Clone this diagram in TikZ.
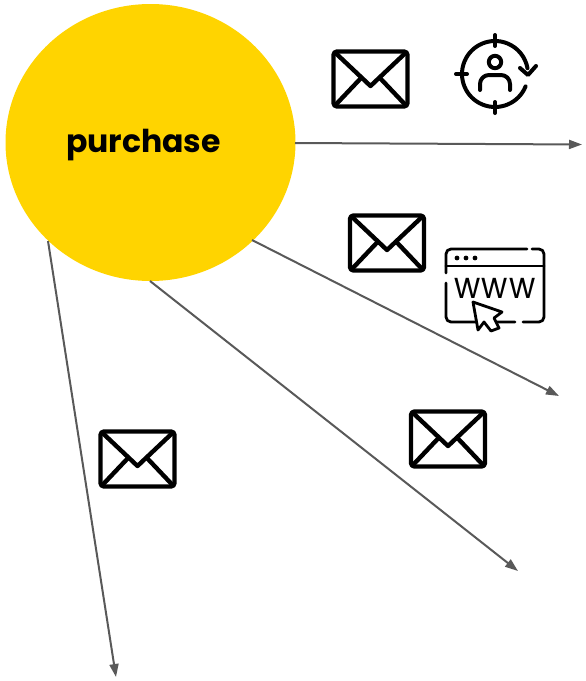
\documentclass[tikz,border=0pt]{standalone}
\usepackage{fontspec}
\setmainfont{Poppins}[BoldFont=Poppins Bold]
\usetikzlibrary{shapes.geometric,arrows.meta}
\definecolor{gold}{HTML}{FFD400}
\definecolor{conn}{HTML}{595959}
\tikzset{
  x=1pt,y=-1pt,
  blob/.style={ellipse,fill=gold,inner sep=0pt,minimum width=290pt,minimum height=277pt},
  flow/.style={draw=conn,line width=2pt,-{Triangle[length=13pt,width=9pt]}},
  ico/.style={draw=black,line width=4pt,line cap=round,line join=round},
  icoweb/.style={draw=black,line width=2.8pt,line cap=round,line join=round},
  icob/.style={draw=black,line width=4.4pt,line join=round},
  envelope/.pic={
    \draw[icob,rounded corners=3.5pt] (-37,-27.5) rectangle (37,27.5);
    \draw[icob] (-36,-27) -- (0,7) -- (36,-27);
    \draw[icob] (-36,27) -- (-9,-1.5);
    \draw[icob] (36,27) -- (9,-1.5);
  }
}
\begin{document}
\begin{tikzpicture}
\useasboundingbox (0,0) rectangle (586,681);
\node[blob] (purchase) at (150.5,142.5) {};
\node[font=\bfseries\fontsize{31.5pt}{36pt}\selectfont] (label) at (143.5,145) {purchase};
\coordinate (a1) at (295,143);
\coordinate (a2) at (252,240);
\coordinate (a3) at (150,281);
\coordinate (a4) at (48,241);
\coordinate (b1) at (582,144.5);
\coordinate (b2) at (559,396);
\coordinate (b3) at (518,571);
\coordinate (b4) at (116,677);
\draw[flow] (a1) -- (b1);
\draw[flow] (a2) -- (b2);
\draw[flow] (a3) -- (b3);
\draw[flow] (a4) -- (b4);
\pic at (370.5,79) {envelope};
\pic at (387,243) {envelope};
\pic at (448,439) {envelope};
\pic at (137.5,459) {envelope};
% target-person icon
\begin{scope}[shift={(495,74)},y=1pt]
\draw[ico] (-22:33) arc[start angle=-22,end angle=-350,radius=33];
\draw[ico] (0,39) -- (0,28);
\draw[ico] (0,-39) -- (0,-28);
\draw[ico] (-39,0) -- (-28,0);
\draw[ico] (25,6) -- (33,-1) -- (41,8);
\draw[ico] (0,12) circle (6.2);
\draw[ico] (-15,-16) -- (-15,-10) arc[start angle=180,end angle=90,radius=9] -- (6,-1) arc[start angle=90,end angle=0,radius=9] -- (15,-16);
\end{scope}
% web icon
\draw[icoweb,rounded corners=5pt] (527,249) -- (446,249) -- (446,273);
\draw[icoweb,rounded corners=5pt] (446,283) -- (446,322) -- (515,322);
\draw[icoweb,rounded corners=5pt] (523,322) -- (544,322) -- (544,249) -- (532,249);
\draw[icoweb] (446,266) -- (544,266);
\fill (457,258) circle (2.4) (466,258) circle (2.4) (475,258) circle (2.4);
\node[inner sep=0pt,font=\fontsize{32pt}{34pt}\selectfont,yscale=1.15,transform shape] (www) at (495,288) {w\hspace{1pt}w\hspace{1pt}w};
\draw[icoweb,fill=white] (473,302) -- (502,312) -- (494,318) -- (499,328) -- (491,331) -- (484,322) -- (478,330) -- cycle;
\end{tikzpicture}
\end{document}
